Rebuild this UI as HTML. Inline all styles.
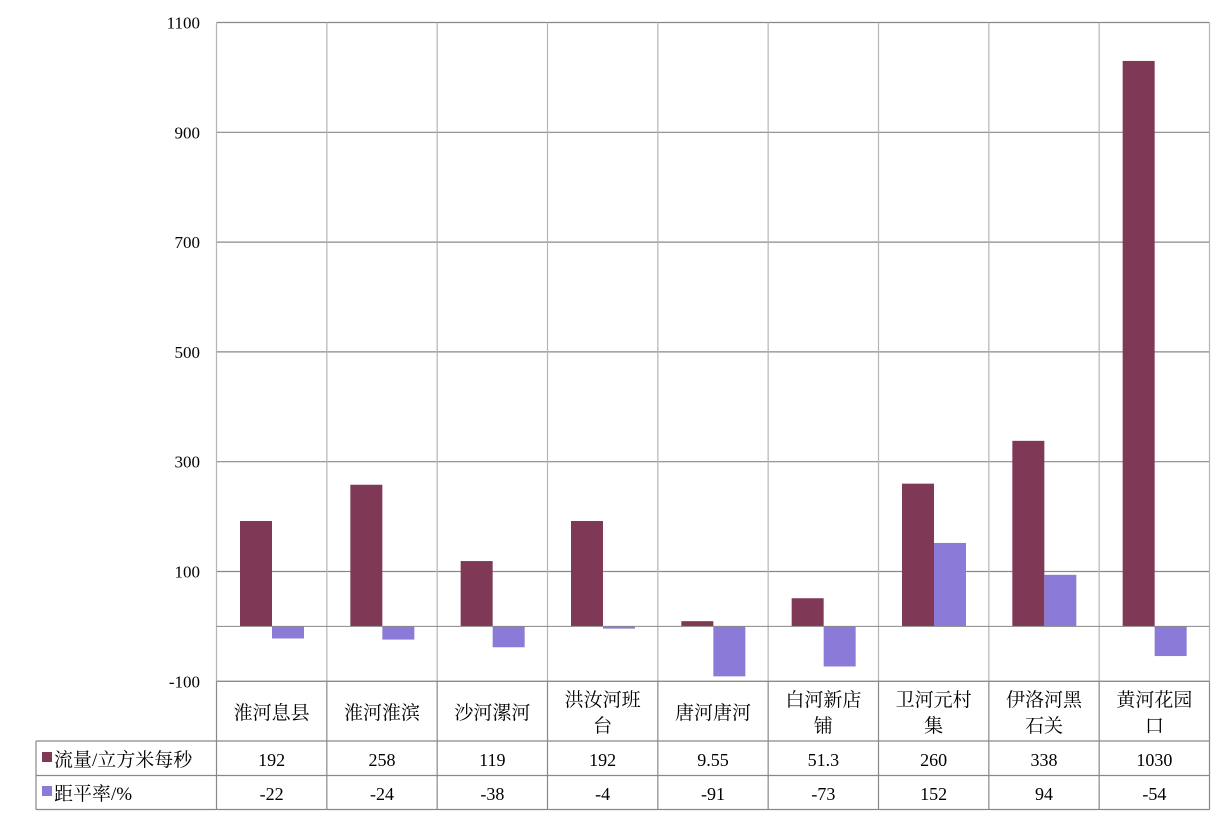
<!DOCTYPE html>
<html><head><meta charset="utf-8"><style>
html,body{margin:0;padding:0;background:#fff;}
svg{display:block;}
text{font-family:"Liberation Serif","Noto Serif CJK SC",serif;fill:#000;}
</style></head><body>
<svg id="chart" width="1232" height="821" xmlns="http://www.w3.org/2000/svg"></svg>
<script>
const categories=[["淮河息县"],["淮河淮滨"],["沙河漯河"],["洪汝河班","台"],["唐河唐河"],["白河新店","铺"],["卫河元村","集"],["伊洛河黑","石关"],["黄河花园","口"]];
const flowValues=[192,258,119,192,9.55,51.3,260,338,1030];
const anomalyValues=[-22,-24,-38,-4,-91,-73,152,94,-54];
const flowLabels=["192","258","119","192","9.55","51.3","260","338","1030"];
const anomalyLabels=["-22","-24","-38","-4","-91","-73","152","94","-54"];
const yTicks=[-100,100,300,500,700,900,1100];
const seriesNames=["流量/立方米每秒","距平率/%"];

const svg=document.getElementById('chart');
const NS="http://www.w3.org/2000/svg";
const L=216.5,R=1209.5,T=22.5,B=681.3;
const yMin=-100,yMax=1100;
const y=v=>T+(yMax-v)/(yMax-yMin)*(B-T);
const cw=(R-L)/categories.length;
const x=i=>L+i*cw;
function el(tag,attrs,name,inter){const e=document.createElementNS(NS,tag);for(const k in attrs)e.setAttribute(k,attrs[k]);


svg.appendChild(e);return e;}
// gridlines
yTicks.forEach(t=>{
 el('line',{x1:L,x2:R,y1:y(t),y2:y(t),stroke:'#888','stroke-width':1.2},'gridline-y');
 const tx=el('text',{x:200,y:y(t)+6,'text-anchor':'end','font-size':17},'y-tick-label');tx.textContent=t<0?'-'+Math.abs(t):t;
});
for(let i=0;i<=categories.length;i++){
 el('line',{x1:x(i),x2:x(i),y1:T,y2:B,stroke:'#b4b4b4','stroke-width':1.2},'gridline-x');
}
// bars
const bw=32;
flowValues.forEach((v,i)=>{
 const y0=y(0),y1=y(v);
 el('rect',{x:x(i)+23.5,y:Math.min(y0,y1),width:bw,height:Math.abs(y1-y0),fill:'#7f3855'},'bar-flow');
});
anomalyValues.forEach((v,i)=>{
 const y0=y(0),y1=y(v);
 el('rect',{x:x(i)+23.5+bw,y:Math.min(y0,y1),width:bw,height:Math.max(1,Math.abs(y1-y0)),fill:'#8b7ad8'},'bar-anomaly');
});
el('line',{x1:L,x2:R,y1:y(0),y2:y(0),stroke:'#888','stroke-width':1},'zero-axis');
// table
const r1=741,r2=775.5,r3=809.5,TL=36;
[[L,B,R,B],[TL,r1,R,r1],[TL,r2,R,r2],[TL,r3,R,r3],[TL,r1,TL,r3]].forEach(a=>el('line',{x1:a[0],y1:a[1],x2:a[2],y2:a[3],stroke:'#888','stroke-width':1.2},'table-border'));
for(let i=0;i<=categories.length;i++)el('line',{x1:x(i),x2:x(i),y1:B,y2:r3,stroke:'#888','stroke-width':1.2},'table-column-line');
categories.forEach((c,i)=>{
 const cx=x(i)+cw/2;
 if(c.length===1){const t=el('text',{x:cx,y:719,'text-anchor':'middle','font-size':19},'category-label');t.textContent=c[0];}
 else c.forEach((s,j)=>{const t=el('text',{x:cx,y:706+j*26,'text-anchor':'middle','font-size':19},'category-label');t.textContent=s;});
 const a=el('text',{x:cx,y:766,'text-anchor':'middle','font-size':18},'flow-value');a.textContent=flowLabels[i];
 const b=el('text',{x:cx,y:800,'text-anchor':'middle','font-size':18},'anomaly-value');b.textContent=anomalyLabels[i];
});
el('rect',{x:42,y:752,width:10,height:10,fill:'#7f3855'},'legend-key-flow');
el('rect',{x:42,y:786,width:10,height:10,fill:'#8b7ad8'},'legend-key-anomaly');
const l1=el('text',{x:54,y:766,'font-size':19},'legend-flow');l1.textContent=seriesNames[0];
const l2=el('text',{x:54,y:800,'font-size':19},'legend-anomaly');l2.textContent=seriesNames[1];
</script>
</body></html>
